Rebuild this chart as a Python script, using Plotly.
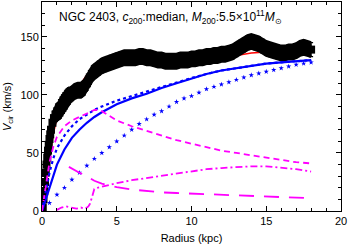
import plotly.graph_objects as go

# Observed rotation curve (kpc, km/s) with errors
obs_r = [0.05,0.1,0.15,0.2,0.25,0.3,0.35,0.4,0.45,0.5,0.55,0.6,0.7,0.8,0.9,1.0,1.1,1.2,1.3,1.4,1.5,1.6,1.7,1.8,1.9,2.0,
         2.2,2.4,2.6,2.8,3.0,3.2,3.4,3.6,3.8,4.0,4.2,4.4,4.6,4.8,5.0,5.25,5.5,5.75,6.0,6.25,6.5,6.75,7.0,7.25,7.5,7.75,
         8.0,8.25,8.5,8.75,9.0,9.25,9.5,9.75,10.0,10.25,10.5,10.75,11.0,11.25,11.5,11.75,12.0,12.25,12.5,12.75,13.0,
         13.25,13.5,13.75,14.0,14.25,14.5,14.75,15.0,15.25,15.5,15.75,16.0,16.25,16.5,16.75,17.0,17.25,17.5,17.75,18.0]
obs_v = [3,10,17,25,33,40,46,52,57,62,66,70,76,80,83,85,86,88,90,92,94,96,98,99,100,101,
         103,104,104,106,110,115,119,121,123,125,126,127,128,129,130,131,132,132,132,132,133,133,132,132,131,130,
         130,129,129,129,129,130,130,130,131,131,132,132,133,133,134,134,135,135,136,137,139,
         141,143,145,146,145,144,142,140,139,138,137,136,136,137,137,138,140,141,140,139]
obs_e = [2,2,3,3,3,3,4,4,4,4,5,5,5,6,6,7,7,8,8,8,8,8,7,7,6,6,
         6,6,6,6,6,6,6,6,6,6,6,6,6,6,6,6,6,6,6,6,6,6,6,6,6,6,
         6,6,6,6,6,6,6,6,6,6,6,6,6,6,6,6,6,6,6,6,6,
         6,6,6,6,6,6,6,6,6,6,6,6,6,6,6,6,6,6,6,6]

# Model curves
mod_r = [0,0.25,0.5,0.75,1.0,1.5,2.0,2.5,3.0,3.5,4.0,5.0,6.0,7.0,8.0,9.0,10.0,11.0,12.0,13.0,14.0,15.0,16.0,17.0,18.0]
total_v = [0,22,45,66,80,95,101,108,117,122,125,128,130,131,131,132,133,133,133,134,136,137,138,140,140]
halo_v = [0,10,22,32,40,53,63,70,76,81,85,92,97,101,106,110,114,118,121,123,125,127,128,129,130]
halo2_v = [0,18,33,45,54,65,73,79,83,87,90,95,99,103,107,111,114.5,118,121,123,125,127,128,129,130]

star_r = [0.5,1.0,1.5,2.0,2.5,3.0,3.5,4.0,4.5,5.0,5.5,6.0,6.5,7.0,7.5,8.0,8.5,9.0,9.5,10.0,10.5,11.0,11.5,12.0,
          12.5,13.0,13.5,14.0,14.5,15.0,15.5,16.0,16.5,17.0,17.5,18.0]
star_v = [7,14,20,27,33,39,45,50,55,60,65,70,75,79,83,86,90,94,97,99,102,105,107,109,
          111,113,115,117,118.5,120,121.5,123,124.5,126,127,128]

disk_r = [0,0.25,0.5,0.75,1.0,1.5,2.0,2.5,3.0,3.5,3.75,4.0,4.5,5.0,6.0,7.0,8.0,9.0,10.0,11.0,12.0,13.0,14.0,15.0,16.0,17.0,18.0]
disk_v = [0,22,42,55,64,73,78,81,84,87,87,86,82,78,73,69,65,61,58,55,52,50,48,46,44,42,41]

gas_r = [1.0,1.3,1.6,2.0,2.3,2.6,2.9,3.1,3.2,3.3,3.4,3.5,3.7,4.0,5.0,6.0,7.0,8.0,9.0,10.0,11.0,12.0,13.0,14.0,15.0,16.0,17.0,18.0]
gas_v = [1,3,4,3,2,3,2,4,6,10,16,19,20,21,24,26.5,28.5,30.5,32.5,34.5,36,37,38,38.5,38.5,37.5,36,34]

bul_r = [1.8,2.0,2.5,3.0,3.5,4.0,5.0,6.0,7.0,8.0,9.0,10.0,11.0,12.0,13.0,14.0,15.0,16.0,17.0,18.0]
bul_v = [38,36.5,33,30,26,23.5,20.5,18.5,17,16,15.5,15,14.5,13.7,13,12.5,12,11.7,11.3,11]

MAG = "#ff00ff"
BLUE = "#0000ff"
FONT = "Liberation Sans, Arial, sans-serif"

lo = [v - e for v, e in zip(obs_v, obs_e)]
hi = [v + e for v, e in zip(obs_v, obs_e)]

fig = go.Figure()
fig.add_trace(go.Scatter(x=mod_r, y=total_v, mode="lines", line=dict(color="red", width=1.5)))
fig.add_trace(go.Scatter(x=obs_r, y=obs_v, mode="markers",
                         marker=dict(color="black", size=8, symbol="square", opacity=1, line=dict(width=0)),
                         error_y=dict(type="data", array=obs_e, color="black", thickness=1.2, width=2)))
# error envelope (solid band, as the dense data points look in the figure)
fig.add_trace(go.Scatter(x=obs_r, y=lo, mode="lines", line=dict(color="black", width=3)))
fig.add_trace(go.Scatter(x=obs_r, y=hi, mode="lines", line=dict(color="black", width=3),
                         fill="tonexty", fillcolor="black"))
fig.add_trace(go.Scatter(x=mod_r, y=halo_v, mode="lines", line=dict(color=BLUE, width=2.2)))
fig.add_trace(go.Scatter(x=mod_r, y=halo2_v, mode="lines", line=dict(color=BLUE, width=2.2, dash="dot")))
fig.add_trace(go.Scatter(x=star_r, y=star_v, mode="markers",
                         marker=dict(color=BLUE, size=4, symbol="star", line=dict(width=0))))
fig.add_trace(go.Scatter(x=disk_r, y=disk_v, mode="lines", line=dict(color=MAG, width=1.8, dash="6px,4px")))
fig.add_trace(go.Scatter(x=gas_r, y=gas_v, mode="lines", line=dict(color=MAG, width=1.8, dash="7px,3px,2px,3px")))
fig.add_trace(go.Scatter(x=bul_r, y=bul_v, mode="lines", line=dict(color=MAG, width=1.8, dash="15px,10px")))

fig.add_annotation(x=1.0, y=167, xref="x", yref="y", xanchor="left", yanchor="middle", showarrow=False,
                   text="NGC 2403, <i>c</i><sub>200</sub>:median, <i>M</i><sub>200</sub>:5.5×10<sup>11</sup><i>M</i><sub>⊙</sub>",
                   font=dict(family=FONT, size=12, color="black"))

axis_common = dict(showline=True, linecolor="black", linewidth=1, mirror="ticks", ticks="inside",
                   tickcolor="black", ticklen=5, showgrid=False, zeroline=False,
                   tickfont=dict(family=FONT, size=11, color="black"))
fig.update_xaxes(range=[0, 20], tick0=0, dtick=5,
                 minor=dict(ticks="inside", dtick=1, ticklen=3, tickcolor="black", showgrid=False),
                 title=dict(text="Radius (kpc)", font=dict(family=FONT, size=11, color="black"), standoff=8),
                 **axis_common)
fig.update_yaxes(range=[0, 180], tick0=0, dtick=50,
                 minor=dict(ticks="inside", dtick=10, ticklen=3, tickcolor="black", showgrid=False),
                 title=dict(text="<i>V</i><sub>cir</sub> (km/s)", font=dict(family=FONT, size=11, color="black"), standoff=6),
                 **axis_common)
fig.update_layout(template="none", width=350, height=248, margin=dict(l=42, r=9, t=2, b=37),
                  paper_bgcolor="white", plot_bgcolor="white", showlegend=False, hovermode=False)
fig.write_html("out.html", config={"displayModeBar": False, "staticPlot": True},
               post_script="document.body.style.margin='0';")
